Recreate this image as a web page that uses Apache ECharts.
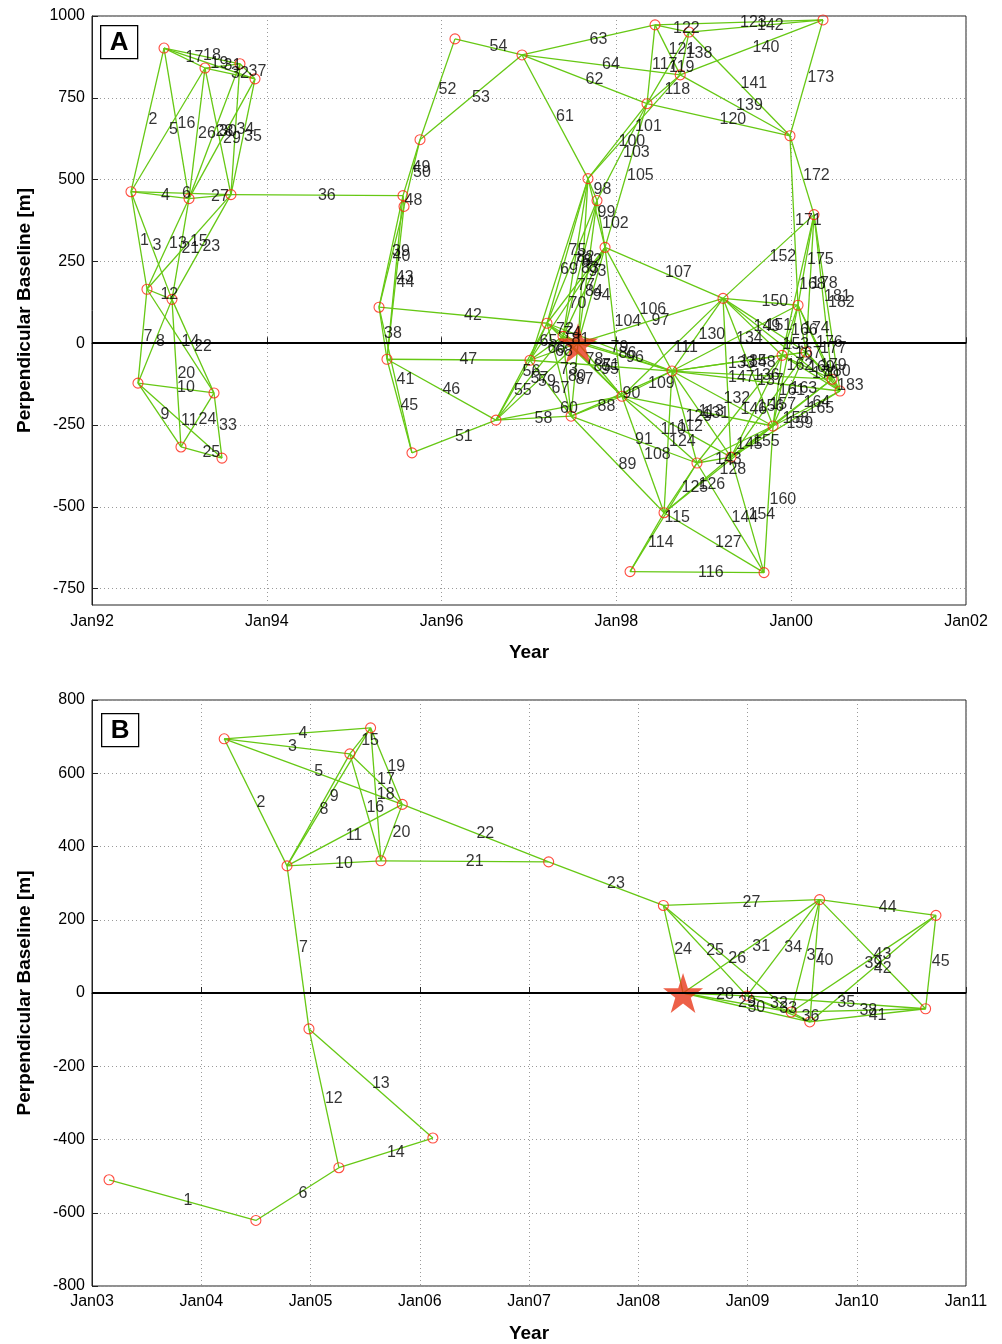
<!DOCTYPE html>
<html>
<head>
<meta charset="utf-8">
<script src="https://cdn.jsdelivr.net/npm/echarts@6/dist/echarts.min.js"></script>
<style>
  html, body { margin: 0; padding: 0; background: #fff; }
  #chart { width: 1002px; height: 1344px; }
</style>
</head>
<body>
<div id="chart"></div>
<script>
// ---- panel A : acquisitions (decimal year, perpendicular baseline in m) ----
var aDates = [1992.446, 1992.526, 1992.629, 1992.824, 1992.915, 1993.018, 1993.110, 1993.293, 1993.396, 1993.487,
  1993.590, 1993.693, 1993.865,
  1995.284, 1995.375, 1995.558, 1995.570, 1995.661, 1995.753, 1996.153, 1996.622, 1996.920, 1997.011,
  1997.206, 1997.389, 1997.481, 1997.561, 1997.675, 1997.778, 1997.870, 1998.064, 1998.156, 1998.350,
  1998.442, 1998.545, 1998.636, 1998.730, 1998.831, 1998.922, 1999.220, 1999.311, 1999.689, 1999.792,
  1999.895, 1999.986, 2000.078, 2000.169, 2000.261, 2000.364, 2000.467, 2000.558];
var aBaselines = [463, -122, 165, 902, 134, -317, 442, 841, -152, -351,
  454, 854, 808,
  110, -49, 451, 418, -335, 622, 930, -235, 881, -52,
  61, 21, -223, 0, 503, 436, 293, -162, -698, 732,
  973, -518, -85, 820, 951, -366, 137, -348, -701, -253,
  -37, 634, 116, -27, 393, 988, -110, -146];
var aMaster = 26;
// interferograms, numbered 1..n in this order (master index, slave index)
var aPairs = [[0,2],[0,3],[0,4],[0,6],[0,7],[0,10],[1,2],[1,4],[1,5],[1,8],
  [1,9],[2,4],[2,6],[2,8],[2,10],[3,6],[3,7],[3,11],[3,12],[4,5],
  [4,6],[4,8],[4,10],[5,8],[5,9],[6,7],[6,10],[6,11],[6,12],[7,10],
  [7,11],[7,12],[8,9],[10,11],[10,12],[10,15],[11,12],[13,14],[13,15],[13,16],
  [13,17],[13,23],[14,15],[14,16],[14,17],[14,20],[14,22],[15,16],[15,18],[16,18],
  [17,20],[18,19],[18,21],[19,21],[20,22],[20,23],[20,24],[20,25],[20,26],[20,30],
  [21,27],[21,32],[21,33],[21,36],[22,23],[22,24],[22,25],[22,26],[22,27],[22,29],
  [22,35],[23,24],[23,25],[23,26],[23,27],[23,28],[23,29],[23,30],[23,35],[24,25],
  [24,26],[24,27],[24,28],[24,29],[24,30],[24,35],[25,26],[25,30],[25,34],[25,35],
  [25,38],[26,27],[26,28],[26,29],[26,30],[26,35],[26,39],[27,28],[27,29],[27,32],
  [27,36],[28,29],[28,32],[29,30],[29,32],[29,35],[29,39],[30,34],[30,35],[30,38],
  [30,39],[30,40],[30,42],[31,34],[31,38],[31,41],[32,33],[32,36],[32,37],[32,44],
  [33,36],[33,37],[33,48],[34,35],[34,38],[34,40],[34,41],[34,42],[35,38],[35,39],
  [35,40],[35,42],[35,43],[35,45],[35,46],[35,49],[35,50],[36,37],[36,44],[36,48],
  [37,44],[37,48],[38,40],[38,41],[38,42],[38,43],[39,40],[39,42],[39,43],[39,45],
  [39,46],[39,47],[39,50],[40,41],[40,42],[40,43],[40,46],[40,49],[40,50],[41,42],
  [42,43],[42,45],[42,46],[42,49],[42,50],[43,45],[43,46],[43,47],[43,49],[43,50],
  [44,45],[44,47],[44,48],[45,46],[45,47],[45,49],[45,50],[46,47],[46,49],[46,50],
  [47,49],[47,50],[49,50]];
var aYearTicks = [1992, 1994, 1996, 1998, 2000, 2002];
var aBaseTicks = [-750, -500, -250, 0, 250, 500, 750, 1000];

// ---- panel B ----
var bDates = [2003.156, 2004.21, 2004.50, 2004.785, 2004.986, 2005.26, 2005.36, 2005.55, 2005.645, 2005.84,
  2006.12, 2007.18, 2008.23, 2008.41, 2008.995, 2009.40, 2009.57, 2009.66, 2010.63, 2010.725];
var bBaselines = [-510, 694, -621, 347, -98, -477, 653, 724, 361, 515,
  -396, 358, 239, 0, -8, -52, -79, 255, -43, 212];
var bMaster = 13;
var bPairs = [[0,2],[1,3],[1,6],[1,7],[1,9],[2,5],[3,4],[3,6],[3,7],[3,8],
  [3,9],[4,5],[4,10],[5,10],[6,7],[6,8],[6,9],[7,8],[7,9],[8,9],
  [8,11],[9,11],[11,12],[12,13],[12,14],[12,15],[12,17],[13,14],[13,15],[13,16],
  [13,17],[14,15],[14,16],[14,17],[14,18],[15,16],[15,17],[15,18],[15,19],[16,17],
  [16,18],[16,19],[17,18],[17,19],[18,19]];

var font = 'Liberation Sans, Arial, Helvetica, sans-serif';
var green = '#66c814';
var starPath = 'path://M50,0 L61.8,35.1 L98.9,35.1 L68.9,56.8 L80.2,91.9 L50,70.2 L19.8,91.9 L31.1,56.8 L1.1,35.1 L38.2,35.1 Z';

function yearLabel(v) {
  return 'Jan' + String(Math.round(v)).slice(2);
}

function netSeries(dates, base, pairs, master, ax) {
  var pt = function (i) { return [dates[i], base[i]]; };
  var nodes = [];
  dates.forEach(function (d, i) { if (i !== master) nodes.push(pt(i)); });
  return [
    {
      type: 'lines', coordinateSystem: 'cartesian2d', xAxisIndex: ax, yAxisIndex: ax,
      silent: true, z: 2, polyline: false,
      lineStyle: { color: green, width: 1.3, opacity: 1 },
      data: pairs.map(function (p) { return { coords: [pt(p[0]), pt(p[1])] }; })
    },
    {
      type: 'scatter', xAxisIndex: ax, yAxisIndex: ax, z: 3, silent: true,
      symbol: 'circle', symbolSize: 10,
      itemStyle: { color: 'rgba(0,0,0,0)', borderColor: '#ff2010', borderWidth: 1.1 },
      data: nodes,
      markLine: {
        silent: true, symbol: 'none', animation: false,
        label: { show: false },
        lineStyle: { color: '#000', width: 2, type: 'solid' },
        data: [{ yAxis: 0 }]
      }
    },
    {
      type: 'scatter', xAxisIndex: ax, yAxisIndex: ax, z: 5, silent: true,
      symbolSize: 0,
      label: {
        show: true, position: 'right', distance: 1,
        formatter: function (p) { return p.name; },
        fontSize: 16, fontFamily: font, color: '#000'
      },
      data: pairs.map(function (p, k) {
        return {
          name: String(k + 1),
          value: [(dates[p[0]] + dates[p[1]]) / 2, (base[p[0]] + base[p[1]]) / 2]
        };
      })
    },
    {
      type: 'scatter', xAxisIndex: ax, yAxisIndex: ax, z: 4, silent: true,
      symbol: starPath, symbolSize: 40,
      itemStyle: { color: '#e8381a' },
      data: [pt(master)]
    }
  ];
}

function xAxis(idx, min, max, interval, margin) {
  return {
    type: 'value', gridIndex: idx, min: min, max: max, interval: interval,
    name: 'Year', nameLocation: 'middle', nameGap: 38,
    nameTextStyle: { fontSize: 19, fontWeight: 'bold', fontFamily: font, color: '#000' },
    axisLine: { show: true, lineStyle: { color: '#222', width: 1 } },
    axisTick: { show: true, inside: true, length: 6, lineStyle: { color: '#222' } },
    axisLabel: { formatter: yearLabel, fontSize: 16, fontFamily: font, color: '#000', margin: margin },
    splitLine: { show: true, lineStyle: { color: '#9a9a9a', type: [1, 3], width: 1 } }
  };
}

function yAxis(idx, min, max, extra) {
  var ax = {
    type: 'value', gridIndex: idx, min: min, max: max,
    name: 'Perpendicular Baseline [m]', nameLocation: 'middle', nameGap: 58,
    nameTextStyle: { fontSize: 19, fontWeight: 'bold', fontFamily: font, color: '#000' },
    axisLine: { show: true, lineStyle: { color: '#222', width: 1 } },
    axisTick: { show: true, inside: true, length: 6, lineStyle: { color: '#222' } },
    axisLabel: { fontSize: 16, fontFamily: font, color: '#000', margin: 7 },
    splitLine: { show: true, lineStyle: { color: '#9a9a9a', type: [1, 3], width: 1 } }
  };
  return Object.assign(ax, extra || {});
}

function panelBox(letter, left, top) {
  return {
    type: 'group', left: left, top: top, z: 100,
    children: [
      { type: 'rect', shape: { x: 0, y: 0, width: 37, height: 33 },
        style: { fill: '#fff', stroke: '#000', lineWidth: 1.3 } },
      { type: 'text', x: 18.5, y: 17,
        style: { text: letter, font: 'bold 26px ' + font, fill: '#000',
          align: 'center', verticalAlign: 'middle', textAlign: 'center', textVerticalAlign: 'middle' } }
    ]
  };
}

var chart = echarts.init(document.getElementById('chart'));
chart.setOption({
  animation: false,
  backgroundColor: '#fff',
  grid: [
    { left: 92, top: 16, width: 874, height: 589, show: true, borderColor: '#222', borderWidth: 1, backgroundColor: 'rgba(0,0,0,0)' },
    { left: 92, top: 700, width: 874, height: 590, show: true, borderColor: '#222', borderWidth: 1, backgroundColor: 'rgba(0,0,0,0)' }
  ],
  xAxis: [
    xAxis(0, aYearTicks[0], aYearTicks[aYearTicks.length - 1], 2, 9),
    xAxis(1, 2003, 2011, 1, 8)
  ],
  yAxis: [
    yAxis(0, -800, 1000, {
      axisLabel: { fontSize: 16, fontFamily: font, color: '#000', margin: 7, customValues: aBaseTicks,
        formatter: function (v) { return v % 250 === 0 ? String(v) : ''; } },
      axisTick: { show: true, inside: true, length: 6, lineStyle: { color: '#222' }, customValues: aBaseTicks }
    }),
    yAxis(1, -800, 800, { interval: 200 })
  ],
  graphic: [panelBox('A', 100, 25), panelBox('B', 101, 713)],
  series: netSeries(aDates, aBaselines, aPairs, aMaster, 0)
    .concat(netSeries(bDates, bBaselines, bPairs, bMaster, 1))
});
</script>
</body>
</html>
